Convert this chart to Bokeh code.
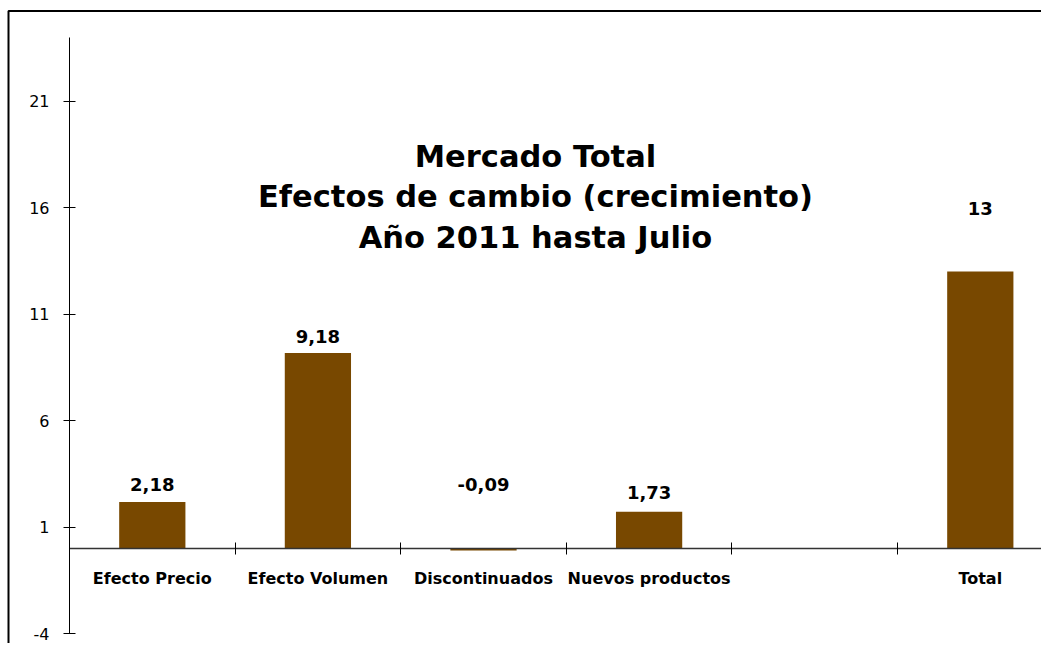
from bokeh.plotting import figure
from bokeh.models import Range1d, LinearAxis, FixedTicker, BoxAnnotation, ColumnDataSource, CustomJSTickFormatter
from bokeh.core.properties import value
from bokeh.embed import file_html
from bokeh.resources import INLINE

# ---- data ----
categories = ["Efecto Precio", "Efecto Volumen", "Discontinuados", "Nuevos productos", "", "Total"]
values = [2.18, 9.18, -0.09, 1.73, None, 13]
value_labels = ["2,18", "9,18", "-0,09", "1,73", "", "13"]
y_ticks = [-4, 1, 6, 11, 16, 21]
title_lines = ["Mercado Total", "Efectos de cambio (crecimiento)", "Año 2011 hasta Julio"]

# ---- styling / layout ----
BAR_COLOR = "#784800"
FONT = "DejaVu Sans"
label_lift_px = [18, 16, 64, 19, None, 63]   # manual label placement above bar tops

W, H = 1041, 643
PX_X, PX_Y = 165.6, 21.3
axis_x_px, zero_y_px = 69, 548          # position of the axes inside the canvas
x_start = -axis_x_px / PX_X
x_end = x_start + W / PX_X
y_end = zero_y_px / PX_Y
y_start = y_end - H / PX_Y

p = figure(width=W, height=H, x_range=Range1d(x_start, x_end), y_range=Range1d(y_start, y_end),
           output_backend="svg", toolbar_location=None, min_border=0,
           x_axis_type=None, y_axis_type=None)
p.outline_line_color = None
p.background_fill_color = "white"
p.border_fill_color = "white"

# border of the chart (only top and left edges fall inside the picture)
p.add_layout(BoxAnnotation(left=x_start + 8 / PX_X, top=y_end - 10.5 / PX_Y,
                           right=x_end + 1, bottom=y_start - 1,
                           fill_alpha=0, line_color="black", line_width=2, line_alpha=1))

# y axis
yaxis = LinearAxis(fixed_location=0, ticker=FixedTicker(ticks=y_ticks), bounds=(-4, 24))
yaxis.formatter = CustomJSTickFormatter(code="return String(tick);")
yaxis.axis_line_color = "black"
yaxis.major_tick_in = 6
yaxis.major_tick_out = 6
yaxis.minor_tick_line_color = None
yaxis.major_label_text_font = FONT
yaxis.major_label_text_font_size = "16px"
yaxis.major_label_text_color = "black"
yaxis.major_label_standoff = 14
p.add_layout(yaxis, "left")

# x axis (ticks between categories, like the original)
n = len(categories)
xaxis = LinearAxis(fixed_location=0, ticker=FixedTicker(ticks=list(range(n + 1))), bounds=(0, n))
xaxis.axis_line_color = "#333333"
xaxis.axis_line_width = 1.5
xaxis.major_tick_in = 6
xaxis.major_tick_out = 6
xaxis.minor_tick_line_color = None
xaxis.major_label_text_alpha = 0
p.add_layout(xaxis, "below")

# bars
idx = [i for i, v in enumerate(values) if v is not None]
src = ColumnDataSource(dict(
    x=[i + 0.5 for i in idx],
    top=[values[i] for i in idx],
    lab=[value_labels[i] for i in idx],
    ly=[max(values[i], 0) for i in idx],
    off=[-label_lift_px[i] for i in idx],
))
p.vbar(x="x", top="top", bottom=0, width=0.4, source=src, fill_color=BAR_COLOR, line_color=None)

# value labels
p.text(x="x", y="ly", text="lab", y_offset="off", source=src,
       text_font=value(FONT), text_font_style="bold", text_font_size="18px",
       text_align="center", text_baseline="middle", text_color="black")

# category labels
p.text(x=[i + 0.5 for i in range(n)], y=[0] * n, text=categories, y_offset=30,
       text_font=value(FONT), text_font_style="bold", text_font_size="16px",
       text_align="center", text_baseline="middle", text_color="black")

# title inside the plot
title_x = (535 - axis_x_px) / PX_X
title_y_px = [156, 196, 237]
p.text(x=[title_x] * 3, y=[(zero_y_px - t) / PX_Y for t in title_y_px], text=title_lines,
       text_font=value(FONT), text_font_style="bold", text_font_size="30.5px",
       text_align="center", text_baseline="middle", text_color="black")

open("out.html", "w").write(file_html(p, INLINE))
